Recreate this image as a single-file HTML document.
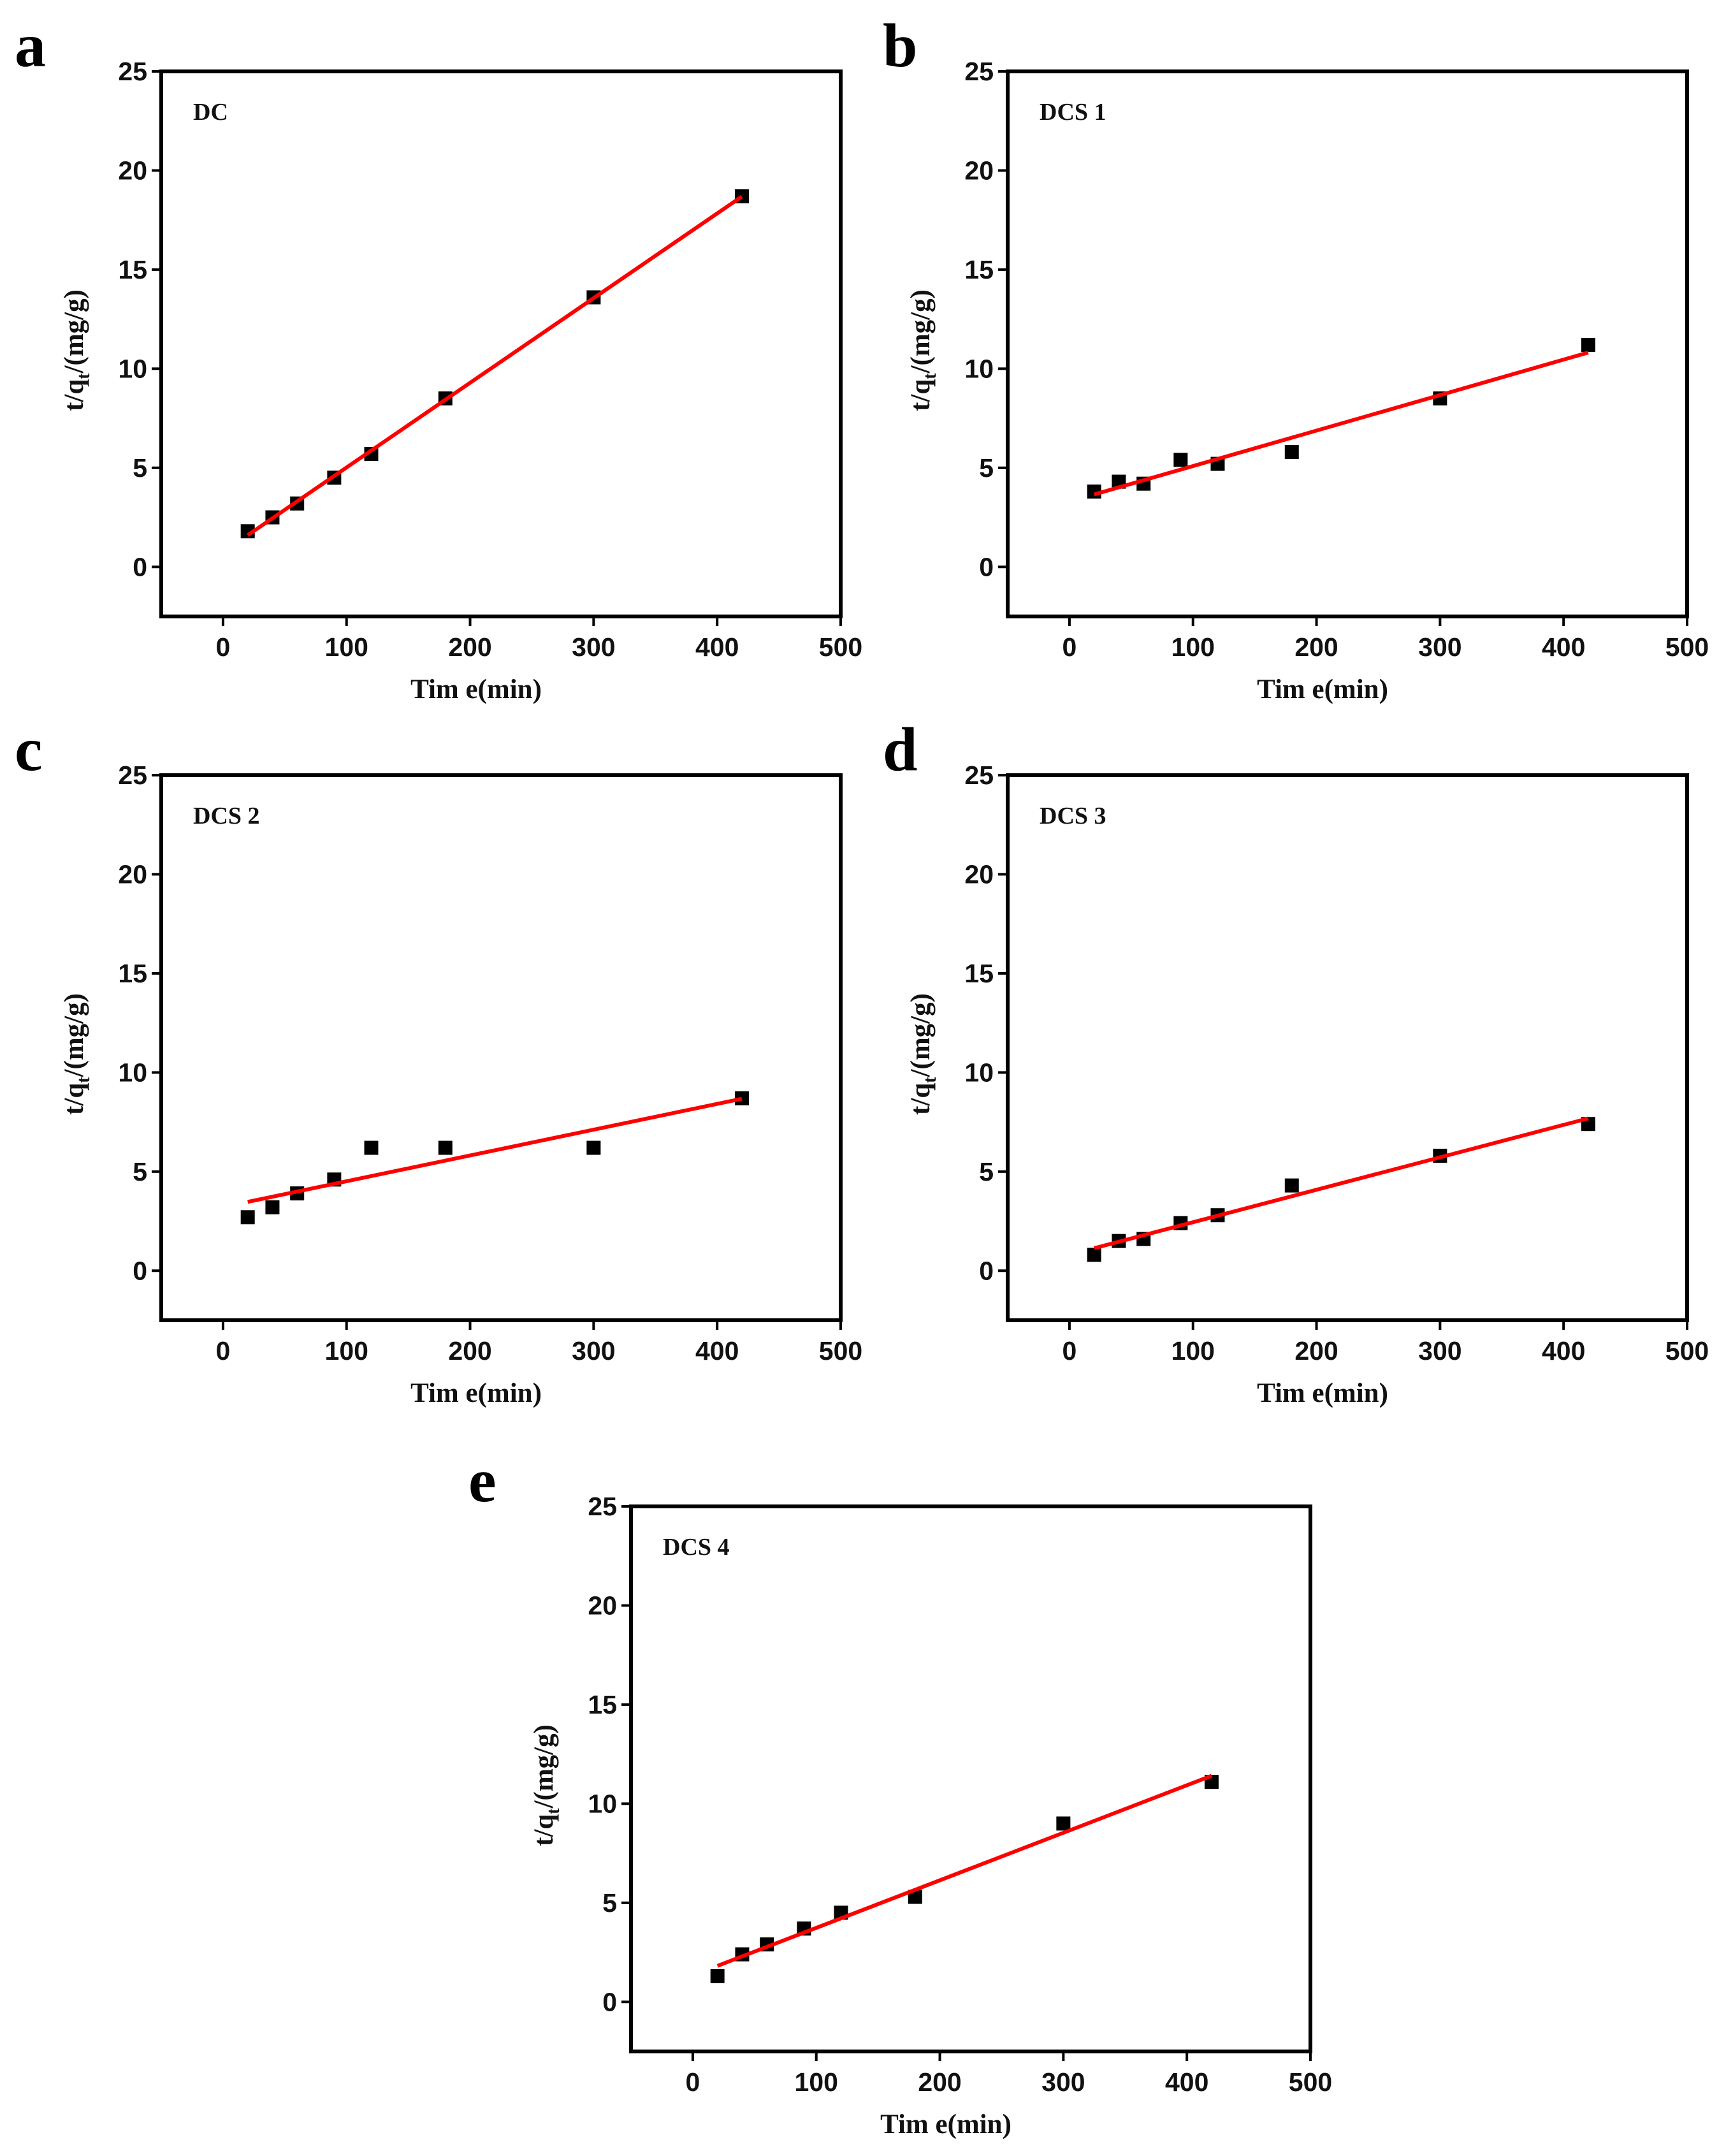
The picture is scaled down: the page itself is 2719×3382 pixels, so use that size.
<!DOCTYPE html>
<html><head><meta charset="utf-8"><style>
html,body{margin:0;padding:0;background:#fff;}
svg{display:block;}
.tick{font-family:"Liberation Sans",Arial,sans-serif;font-weight:bold;font-size:41px;fill:#111;}
.ttl{font-family:"Liberation Serif",serif;font-weight:bold;font-size:43px;fill:#111;}
.plab{font-family:"Liberation Serif",serif;font-weight:bold;font-size:98px;fill:#000;}
.inlab{font-family:"Liberation Serif",serif;font-weight:bold;font-size:38px;fill:#111;}
</style></head><body>
<svg id="fig" width="2719" height="3382" viewBox="0 0 2719 3382" xmlns="http://www.w3.org/2000/svg"></svg>
<script>
const times = [20, 40, 60, 90, 120, 180, 300, 420];
const seriesDC = [1.8, 2.5, 3.2, 4.5, 5.7, 8.5, 13.6, 18.7];
const seriesDCS1 = [3.8, 4.3, 4.2, 5.4, 5.2, 5.8, 8.5, 11.2];
const seriesDCS2 = [2.7, 3.2, 3.9, 4.6, 6.2, 6.2, 6.2, 8.7];
const seriesDCS3 = [0.8, 1.5, 1.6, 2.4, 2.8, 4.3, 5.8, 7.4];
const seriesDCS4 = [1.3, 2.4, 2.9, 3.7, 4.5, 5.3, 9.0, 11.1];
const xTicks = [0, 100, 200, 300, 400, 500];
const yTicks = [0, 5, 10, 15, 20, 25];
const panelLetters = ['a', 'b', 'c', 'd', 'e'];
const panelNames = ['DC', 'DCS 1', 'DCS 2', 'DCS 3', 'DCS 4'];
const panelSeries = [seriesDC, seriesDCS1, seriesDCS2, seriesDCS3, seriesDCS4];

const NS = 'http://www.w3.org/2000/svg';
const svg = document.getElementById('fig');
const layouts = [
  {l:253, t:112, lx:23}, {l:1581, t:112, lx:1385},
  {l:253, t:1216, lx:23}, {l:1581, t:1216, lx:1385},
  {l:990, t:2363, lx:735}
];
const W = 1066, H = 855;
function mk(tag, attrs, parent){
  const e = document.createElementNS(NS, tag);
  for (const k in attrs) e.setAttribute(k, attrs[k]);
  (parent||svg).appendChild(e);
  return e;
}
function fit(xs, ys){
  const n = xs.length;
  let sx=0, sy=0, sxx=0, sxy=0;
  for (let i=0;i<n;i++){sx+=xs[i];sy+=ys[i];sxx+=xs[i]*xs[i];sxy+=xs[i]*ys[i];}
  const b = (n*sxy - sx*sy)/(n*sxx - sx*sx);
  return {b:b, a:(sy - b*sx)/n};
}
layouts.forEach((L, p) => {
  const g = mk('g', {});
  
  
  const xs = v => L.l + (v + 50) / 550 * W;
  const ys = v => L.t + H - (v + 2.5) / 27.5 * H;
  const fr = mk('rect', {x:L.l, y:L.t, width:W, height:H, fill:'none', stroke:'#000', 'stroke-width':6}, g);
  
  
  xTicks.forEach(v => {
    const X = xs(v);
    mk('line', {x1:X, x2:X, y1:L.t+H, y2:L.t+H+15, stroke:'#000', 'stroke-width':4}, g);
    const t = mk('text', {x:X, y:L.t+H+62, 'text-anchor':'middle', class:'tick'}, g);
    t.textContent = v;
    
    
  });
  yTicks.forEach(v => {
    const Y = ys(v);
    mk('line', {x1:L.l-15, x2:L.l, y1:Y, y2:Y, stroke:'#000', 'stroke-width':4}, g);
    const t = mk('text', {x:L.l-22, y:Y+14, 'text-anchor':'end', class:'tick'}, g);
    t.textContent = v;
    
    
  });
  const xt = mk('text', {x:L.l + W/2 - 39, y:L.t+H+128, 'text-anchor':'middle', class:'ttl'}, g);
  xt.textContent = 'Tim e(min)';
  
  
  const yx = L.l - 123, yy = L.t + H/2 + 10;
  const yt = mk('text', {x:yx, y:yy, 'text-anchor':'middle', class:'ttl', transform:'rotate(-90 '+yx+' '+yy+')'}, g);
  yt.innerHTML = 't/q<tspan font-size="28" dy="10">t</tspan><tspan dy="-10">/(mg/g)</tspan>';
  
  
  const pl = mk('text', {x:L.lx, y:L.t - 8, class:'plab'}, g);
  pl.textContent = panelLetters[p];
  
  
  const il = mk('text', {x:L.l + 50, y:L.t + 76, class:'inlab'}, g);
  il.textContent = panelNames[p];
  
  
  const ser = panelSeries[p];
  ser.forEach((v, i) => {
    const r = mk('rect', {x:xs(times[i])-11, y:ys(v)-11, width:22, height:22, fill:'#000'}, g);
    
    
  });
  const f = fit(times, ser);
  const x0 = times[0], x1 = times[times.length-1];
  const ln = mk('line', {x1:xs(x0), y1:ys(f.a+f.b*x0), x2:xs(x1), y2:ys(f.a+f.b*x1), stroke:'#ff0000', 'stroke-width':6}, g);
  
  
});
</script>
</body></html>
